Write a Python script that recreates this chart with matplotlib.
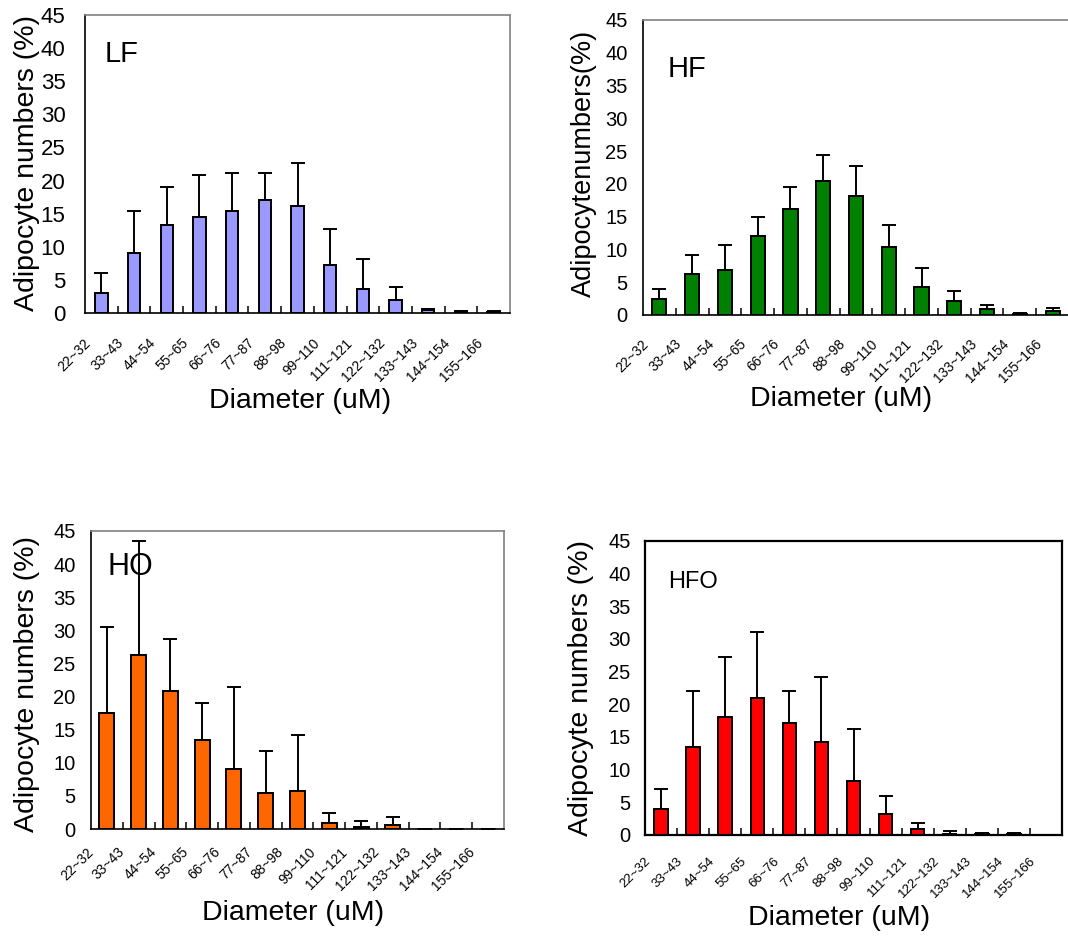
import matplotlib
matplotlib.use("Agg")
import matplotlib.pyplot as plt
import matplotlib.transforms as mtransforms
import numpy as np

plt.rcParams['font.family'] = ['Liberation Sans', 'DejaVu Sans']

categories = ["22~32", "33~43", "44~54", "55~65", "66~76", "77~87", "88~98",
              "99~110", "111~121", "122~132", "133~143", "144~154", "155~166"]

lf_mean = [3.0, 9.1, 13.3, 14.5, 15.4, 17.0, 16.1, 7.3, 3.6, 1.9, 0.4, 0.3, 0.2]
lf_sd = [3.0, 6.3, 5.7, 6.4, 5.8, 4.2, 6.6, 5.4, 4.6, 2.0, 0.25, 0.05, 0.1]

hf_mean = [2.4, 6.2, 6.8, 12.0, 16.2, 20.5, 18.1, 10.4, 4.3, 2.2, 0.9, 0.2, 0.6]
hf_sd = [1.6, 3.0, 3.9, 3.0, 3.3, 3.9, 4.6, 3.3, 2.8, 1.5, 0.6, 0.15, 0.4]

ho_mean = [17.5, 26.2, 20.8, 13.4, 9.1, 5.5, 5.7, 0.85, 0.35, 0.6, 0.05, 0.05, 0.05]
ho_sd = [13.0, 17.3, 7.9, 5.7, 12.3, 6.3, 8.5, 1.6, 0.9, 1.25, 0.0, 0.0, 0.0]

hfo_mean = [4.0, 13.5, 18.1, 20.9, 17.2, 14.2, 8.3, 3.2, 0.9, 0.1, 0.1, 0.1, 0.05]
hfo_sd = [3.1, 8.5, 9.2, 10.1, 4.8, 10.0, 7.9, 2.7, 0.9, 0.5, 0.26, 0.26, 0.0]

W, H = 1068, 938
fig = plt.figure(figsize=(W / 100, H / 100), dpi=100)


def px_axes(x0, y0, x1, y1):
    return fig.add_axes([x0 / W, 1 - y1 / H, (x1 - x0) / W, (y1 - y0) / H])


def panel(box, means, sds, color, width, title, title_pos, title_size,
          ylab, ylab_pos, ylab_size, xlab_pos, ytick_size, ypad, lab_off,
          xtick_size, top_col, right_col, spine_w):
    ax = px_axes(*box)
    x = np.arange(len(categories))
    lower = np.zeros(len(means))
    ax.bar(x, means, width=width, color=color, edgecolor='black', linewidth=1.4,
           zorder=2)
    ax.errorbar(x, means, yerr=[lower, sds], fmt='none', ecolor='black',
                elinewidth=1.4, capsize=5.2, capthick=1.4, zorder=3)
    ax.set_xlim(-0.5, len(categories) - 0.5)
    ax.set_ylim(0, 45)
    ax.set_yticks(np.arange(0, 46, 5))
    ax.tick_params(axis='y', length=0, pad=ypad, labelsize=ytick_size)
    ax.set_xticks(x)
    ax.set_xticklabels([])
    ax.tick_params(axis='x', which='major', length=0)
    ax.set_xticks(x[:-1] + 0.5, minor=True)
    ax.tick_params(axis='x', which='minor', direction='in', length=5,
                   width=1.1)
    for s in ['left', 'bottom']:
        ax.spines[s].set_color('black')
        ax.spines[s].set_linewidth(spine_w)
    ax.spines['top'].set_color(top_col)
    ax.spines['top'].set_linewidth(spine_w)
    if right_col is None:
        ax.spines['right'].set_visible(False)
    else:
        ax.spines['right'].set_color(right_col)
        ax.spines['right'].set_linewidth(spine_w)
    off = mtransforms.ScaledTranslation(lab_off[0] / 100, lab_off[1] / 100,
                                        fig.dpi_scale_trans)
    trans = mtransforms.blended_transform_factory(ax.transData, ax.transAxes) + off
    for i, c in enumerate(categories):
        ax.text(i, 0, c, transform=trans, rotation=45, ha='right', va='top',
                fontsize=xtick_size)
    fig.text(title_pos[0] / W, 1 - title_pos[1] / H, title, fontsize=title_size,
             ha='left', va='baseline')
    fig.text(ylab_pos[0] / W, 1 - ylab_pos[1] / H, ylab, fontsize=ylab_size,
             rotation=90, ha='center', va='center')
    fig.text(xlab_pos[0] / W, 1 - xlab_pos[1] / H, "Diameter (uM)",
             fontsize=20.5, ha='center', va='center')
    return ax


panel((85, 15, 510, 313), lf_mean, lf_sd, '#9999FF', 0.38, 'LF', (105, 62), 21,
      'Adipocyte numbers (%)', (27, 163), 20.5, (300, 401), 16, 14, (-8, -23),
      10, '#808080', '#808080', 1.2)

panel((643, 20, 1069, 315), hf_mean, hf_sd, '#008000', 0.43, 'HF', (668, 77), 21,
      'Adipocytenumbers(%)', (584, 163), 19.5, (841, 399), 14.5, 11, (-8, -22),
      10, '#808080', None, 1.2)

panel((91, 531, 504, 829), ho_mean, ho_sd, '#FF6600', 0.47, 'HO', (107, 575), 22,
      'Adipocyte numbers (%)', (27, 684), 20.5, (293, 913), 14.5, 11, (-11, -16),
      10, '#808080', '#808080', 1.2)

panel((645, 541, 1062, 835), hfo_mean, hfo_sd, '#FF0000', 0.42, 'HFO', (668, 588), 17,
      'Adipocyte numbers (%)', (581, 688), 20.5, (839, 918), 14.5, 10.5, (-8, -20),
      9.5, 'black', 'black', 1.6)

fig.savefig('out.png', dpi=100)
